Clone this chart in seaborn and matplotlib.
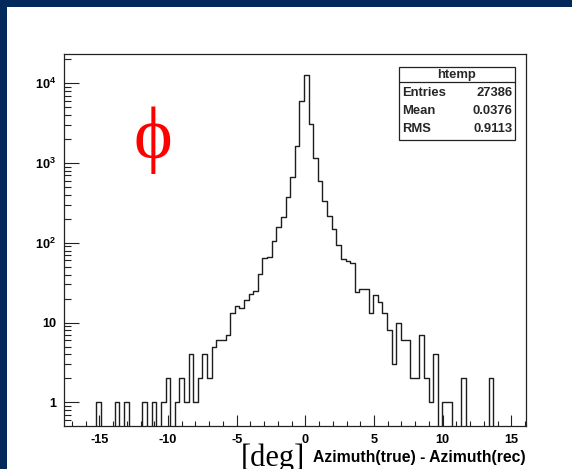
import numpy as np
import pandas as pd
import matplotlib
matplotlib.use("Agg")
import matplotlib.pyplot as plt
import seaborn as sns
from matplotlib.patches import Rectangle
from matplotlib.lines import Line2D
from matplotlib.ticker import FixedLocator, FixedFormatter, MultipleLocator, LogLocator, NullFormatter

# ---------------- data ----------------
counts = [
    0, 0, 0, 0, 0, 0, 0, 1, 0, 0,            # bins 0-9
    0, 1, 0, 1, 0, 0, 0, 1, 0, 1,            # bins 10-19
    0, 1, 2, 0, 1, 2, 1, 4, 1, 2,            # bins 20-29
    4, 2, 5, 6, 6, 7, 13, 16, 15, 19,        # bins 30-39
    23, 25, 41, 64, 67, 106, 156, 208, 377, 675,   # bins 40-49
    1620, 6040, 12700, 3080, 1150, 590, 336, 218, 148, 93,  # bins 50-59
    63, 59, 55, 24, 26, 26, 13, 22, 18, 13,  # bins 60-69
    8, 3, 10, 6, 6, 2, 2, 7, 2, 1,           # bins 70-79
    4, 0, 1, 1, 0, 0, 2, 0, 0, 0,            # bins 80-89
    0, 0, 2, 0, 0, 0, 0, 0, 0, 0,            # bins 90-99
]
x_lo, x_hi, n_bins = -17.57, 16.03, 100
y_lo, y_hi = 0.504, 23300

x_ticks = [-15, -10, -5, 0, 5, 10, 15]
x_tick_labels = ["-15", "-10", "-5", "0", "5", "10", "15"]
y_ticks = [1, 10, 100, 1000, 10000]
y_tick_labels = ["1", "10", r"$\mathbf{10^{2}}$", r"$\mathbf{10^{3}}$", r"$\mathbf{10^{4}}$"]

stats_title = "htemp"
stats_names = ["Entries", "Mean", "RMS"]
stats_values = ["27386", "0.0376", "0.9113"]

x_title = "Azimuth(true) - Azimuth(rec)"
unit_text = "[deg]"
symbol_text = "\u03d5"

# ---------------- style ----------------
sns.set_theme(style="ticks")
SANS = "Liberation Sans"
SERIF = "Liberation Serif"
plt.rcParams["font.family"] = [SANS, "DejaVu Sans"]
plt.rcParams["mathtext.fontset"] = "custom"
plt.rcParams["mathtext.bf"] = f"{SANS}:bold"
plt.rcParams["mathtext.rm"] = f"{SANS}:bold"
plt.rcParams["mathtext.it"] = f"{SANS}:bold"

W, H = 572, 469
fig = plt.figure(figsize=(W / 100, H / 100), dpi=100)
fig.patch.set_facecolor("#03285a")
fig.add_artist(Rectangle((7 / W, 0), 1 - 7 / W, 1 - 7.5 / H, transform=fig.transFigure,
                         facecolor="white", edgecolor="none", zorder=0))


def fx(px):
    return px / W


def fy(py):
    return 1 - py / H


ax = fig.add_axes([fx(64), fy(426), (525.5 - 64) / W, (426 - 54) / H])
ax.set_facecolor("white")

edges = np.linspace(x_lo, x_hi, n_bins + 1)
centers = 0.5 * (edges[:-1] + edges[1:])
df = pd.DataFrame({"x": centers, "n": counts})

ax.set_yscale("log")
sns.histplot(data=df, x="x", weights="n", bins=n_bins, binrange=(x_lo, x_hi),
             element="step", fill=False, color="#1e1e1e", linewidth=1.0, ax=ax)

ax.set_xlim(x_lo, x_hi)
ax.set_ylim(y_lo, y_hi)
ax.set_xlabel("")
ax.set_ylabel("")

for s in ax.spines.values():
    s.set_color("#222222")
    s.set_linewidth(0.9)
    s.set_visible(True)

ax.xaxis.set_major_locator(FixedLocator(x_ticks))
ax.xaxis.set_major_formatter(FixedFormatter(x_tick_labels))
ax.xaxis.set_minor_locator(MultipleLocator(1))
ax.yaxis.set_major_locator(FixedLocator(y_ticks))
ax.yaxis.set_major_formatter(FixedFormatter(y_tick_labels))
ax.yaxis.set_minor_locator(LogLocator(base=10, subs=np.arange(2, 10), numticks=20))
ax.yaxis.set_minor_formatter(NullFormatter())

ax.tick_params(axis="both", which="both", direction="in", top=False, right=False,
               color="#222222", width=0.8)
ax.tick_params(axis="x", which="major", length=8, pad=6)
ax.tick_params(axis="x", which="minor", length=3.8)
ax.tick_params(axis="y", which="major", length=10.5, pad=5.5)
ax.tick_params(axis="y", which="minor", length=4.8)
for lab in ax.get_xticklabels() + ax.get_yticklabels():
    lab.set_fontweight("bold")
    lab.set_fontsize(9.2)
    lab.set_color("black")

# ---------------- statistics box ----------------
bx0, bx1, by0, by1, bsep = 399, 515, 67, 140, 82
fig.add_artist(Rectangle((fx(bx0), fy(by1)), (bx1 - bx0) / W, (by1 - by0) / H,
                         transform=fig.transFigure, facecolor="white",
                         edgecolor="#222222", linewidth=0.9, zorder=5))
fig.add_artist(Line2D([fx(bx0), fx(bx1)], [fy(bsep), fy(bsep)], transform=fig.transFigure,
                      color="#222222", linewidth=0.9, zorder=6))
fig.text(fx((bx0 + bx1) / 2), fy(75), stats_title, ha="center", va="center",
         fontsize=9.4, fontweight="bold", zorder=7)
for i, (nm, val) in enumerate(zip(stats_names, stats_values)):
    yy = 93 + i * 17.8
    fig.text(fx(402), fy(yy), nm, ha="left", va="center", fontsize=9.4,
             fontweight="bold", zorder=7)
    fig.text(fx(512.5), fy(yy), val, ha="right", va="center", fontsize=9.4,
             fontweight="bold", zorder=7)

# ---------------- titles / annotations ----------------
fig.text(fx(526), fy(461.7), x_title, ha="right", va="baseline", fontsize=11.3,
         fontweight="bold", color="black")
fig.text(fx(272.5), fy(465.5), unit_text, ha="center", va="baseline", fontsize=22,
         family=SERIF, color="black")
fig.text(fx(153), fy(158), symbol_text, ha="center", va="baseline", fontsize=53,
         family=[SERIF, "DejaVu Serif"], color="red")

fig.savefig("out.png", dpi=100, facecolor=fig.get_facecolor())
